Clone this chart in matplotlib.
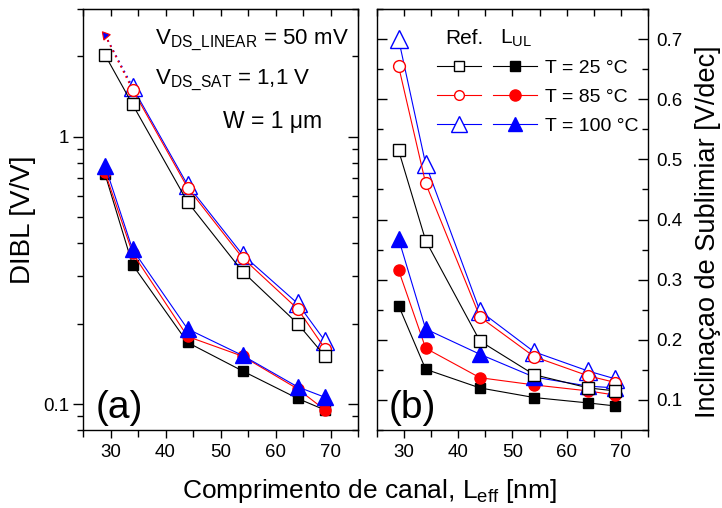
import matplotlib
matplotlib.use("Agg")
import matplotlib.pyplot as plt
from matplotlib.lines import Line2D
from matplotlib.legend_handler import HandlerTuple
from matplotlib.ticker import MultipleLocator, LogLocator, NullFormatter, FixedLocator, FixedFormatter

plt.rcParams['font.family'] = ['Liberation Sans', 'DejaVu Sans']
plt.rcParams['mathtext.fontset'] = 'custom'
plt.rcParams['mathtext.rm'] = 'Liberation Sans'
plt.rcParams['mathtext.it'] = 'Liberation Sans'

# channel length [nm]
leff = [29, 34, 44, 54, 64, 69]

# DIBL [V/V] -- reference devices (open) and L_UL devices (filled)
dibl_ref_25 = [2.02, 1.32, 0.57, 0.313, 0.200, 0.151]
dibl_ref_85 = [2.40, 1.50, 0.645, 0.352, 0.227, 0.161]
dibl_ref_100 = [2.40, 1.53, 0.66, 0.362, 0.238, 0.172]
dibl_ul_25 = [0.724, 0.332, 0.170, 0.133, 0.105, 0.095]
dibl_ul_85 = [0.735, 0.367, 0.179, 0.151, 0.114, 0.095]
dibl_ul_100 = [0.778, 0.379, 0.191, 0.152, 0.116, 0.106]

# subthreshold slope [V/dec]
ss_ref_25 = [0.515, 0.365, 0.198, 0.142, 0.120, 0.115]
ss_ref_85 = [0.655, 0.460, 0.238, 0.172, 0.140, 0.129]
ss_ref_100 = [0.700, 0.492, 0.248, 0.180, 0.148, 0.135]
ss_ul_25 = [0.257, 0.151, 0.120, 0.104, 0.095, 0.090]
ss_ul_85 = [0.316, 0.186, 0.137, 0.125, 0.115, 0.108]
ss_ul_100 = [0.368, 0.218, 0.176, 0.138, 0.123, 0.120]

temps = ["T = 25 °C", "T = 85 °C", "T = 100 °C"]
colors = ["black", "#ff0000", "#0000ff"]
markers = ["s", "o", "^"]
ms_open = [8, 8.5, 12.5]
ms_fill = [7.5, 8, 11]

LW = 0.8

fig = plt.figure(figsize=(7.22, 5.08), dpi=100)
ax1 = fig.add_axes([0.115, 0.1535, 0.381, 0.8287])
ax2 = fig.add_axes([0.522, 0.1535, 0.3755, 0.8287])


def draw(ax, ref, ul, dotted_first=()):
    # filled (L_UL) series: black, red, blue, blue ends on top
    for y, c, m, ms in zip(ul, colors, markers, ms_fill):
        ax.plot(leff, y, color=c, lw=LW, marker=m, ms=ms, mfc=c, mec=c, zorder=3)
    # open (reference) series: triangles first so circles show inside them
    for i in [2, 1, 0]:
        y, c, m, ms = ref[i], colors[i], markers[i], ms_open[i]
        if i in dotted_first:
            ax.plot(leff[:2], y[:2], color=c, lw=1.3, ls=(0, (1, 2.2)), zorder=2)
            ax.plot(leff[1:], y[1:], color=c, lw=LW, marker=m, ms=ms, mfc="white",
                    mec=c, mew=1.0, zorder=4)
        else:
            ax.plot(leff, y, color=c, lw=LW, marker=m, ms=ms, mfc="white", mec=c,
                    mew=1.0, zorder=4)


# (a) DIBL, log scale
draw(ax1, [dibl_ref_25, dibl_ref_85, dibl_ref_100],
     [dibl_ul_25, dibl_ul_85, dibl_ul_100], dotted_first=(1, 2))
# clipped first points of the 85/100 °C reference curves
ax1.plot(leff[0], dibl_ref_85[0], marker=(3, 0, 40), ms=7, color="#0000ff",
         mec="#ff0000", mew=0.8, ls="none", zorder=5)

ax1.set_yscale("log")
ax1.set_xlim(25, 75)
ax1.set_ylim(0.08, 3.0)
ax1.yaxis.set_major_locator(FixedLocator([0.1, 1]))
ax1.yaxis.set_major_formatter(FixedFormatter(["0.1", "1"]))
ax1.yaxis.set_minor_locator(LogLocator(base=10, subs=range(2, 10)))
ax1.yaxis.set_minor_formatter(NullFormatter())
ax1.set_ylabel("DIBL [V/V]", fontsize=20, labelpad=5)

ax1.text(0.262, 0.926, r"V$_\mathregular{DS\_LINEAR}$ = 50 mV", transform=ax1.transAxes,
         fontsize=16, va="center", ha="left")
ax1.text(0.262, 0.831, r"V$_\mathregular{DS\_SAT}$ = 1,1 V", transform=ax1.transAxes,
         fontsize=16, va="center", ha="left")
ax1.text(0.509, 0.732, "W = 1 μm", transform=ax1.transAxes,
         fontsize=16.5, va="center", ha="left")
ax1.text(0.045, 0.01, "(a)", transform=ax1.transAxes, fontsize=28,
         va="bottom", ha="left")

# (b) subthreshold slope, linear scale
draw(ax2, [ss_ref_25, ss_ref_85, ss_ref_100], [ss_ul_25, ss_ul_85, ss_ul_100])
ax2.set_xlim(25, 75)
ax2.set_ylim(0.05, 0.75)
ax2.yaxis.set_major_locator(MultipleLocator(0.1))
ax2.yaxis.set_minor_locator(MultipleLocator(0.05))
ax2.yaxis.set_major_formatter(matplotlib.ticker.FormatStrFormatter("%.1f"))
ax2.yaxis.set_label_position("right")
ax2.set_ylabel("Inclinaçao de Sublimiar [V/dec]", fontsize=19.5)
ax2.yaxis.set_label_coords(1.172, 0.47)
ax2.text(0.045, 0.01, "(b)", transform=ax2.transAxes, fontsize=28,
         va="bottom", ha="left")

# legend: open (Ref.) and filled (L_UL) symbol side by side for each temperature
handles = []
for c, m, mo, mf in zip(colors, markers, [6.5, 7, 12], [7, 8, 9.5]):
    h_open = Line2D([], [], color=c, lw=LW, marker=m, ms=mo, mfc="white", mec=c)
    h_fill = Line2D([], [], color=c, lw=LW, marker=m, ms=mf, mfc=c, mec=c)
    handles.append((h_open, h_fill))
ax2.legend(handles, temps, handler_map={tuple: HandlerTuple(ndivide=None, pad=0.65)},
           loc="upper left", bbox_to_anchor=(0.221, 0.88), frameon=False,
           fontsize=14, handlelength=5.15, handletextpad=0.4, labelspacing=0.58,
           borderpad=0, borderaxespad=0)
ax2.text(0.252, 0.931, "Ref.", transform=ax2.transAxes, fontsize=15,
         va="center", ha="left")
ax2.text(0.455, 0.931, r"L$_\mathregular{UL}$", transform=ax2.transAxes,
         fontsize=15, va="center", ha="left")

# common x label
fig.text(0.512, 0.02, r"Comprimento de canal, L$_\mathregular{eff}$ [nm]",
         fontsize=19, ha="center", va="baseline")

for ax in (ax1, ax2):
    ax.xaxis.set_major_locator(MultipleLocator(10))
    ax.xaxis.set_minor_locator(MultipleLocator(5))
    ax.tick_params(axis="x", which="major", direction="out", length=6, width=1,
                   labelsize=13.5, pad=4)
    ax.tick_params(axis="x", which="minor", direction="out", length=5, width=1)
    for s in ax.spines.values():
        s.set_linewidth(1.0)
    # mirrored ticks on the top edge point inward
    top = ax.secondary_xaxis("top")
    top.xaxis.set_major_locator(MultipleLocator(10))
    top.xaxis.set_minor_locator(MultipleLocator(5))
    top.tick_params(axis="x", which="both", direction="in", length=5, width=1,
                    labelbottom=False, labeltop=False)

ax1.tick_params(axis="y", which="major", direction="out", length=7, width=1,
                labelsize=13.5, pad=3)
ax1.tick_params(axis="y", which="minor", direction="out", length=4, width=1)
right1 = ax1.secondary_yaxis("right")
right1.yaxis.set_major_locator(FixedLocator([0.1, 1]))
right1.yaxis.set_minor_locator(LogLocator(base=10, subs=range(2, 10)))
right1.yaxis.set_minor_formatter(NullFormatter())
right1.tick_params(axis="y", which="major", direction="in", length=7, width=1,
                   labelright=False)
right1.tick_params(axis="y", which="minor", direction="in", length=4, width=1)

ax2.tick_params(axis="y", which="major", direction="in", length=7, width=1,
                left=True, right=True, labelleft=False, labelright=True,
                labelsize=13.5, pad=6)
ax2.tick_params(axis="y", which="minor", direction="in", length=4, width=1,
                left=True, right=True)

fig.savefig("out.png", dpi=100)
